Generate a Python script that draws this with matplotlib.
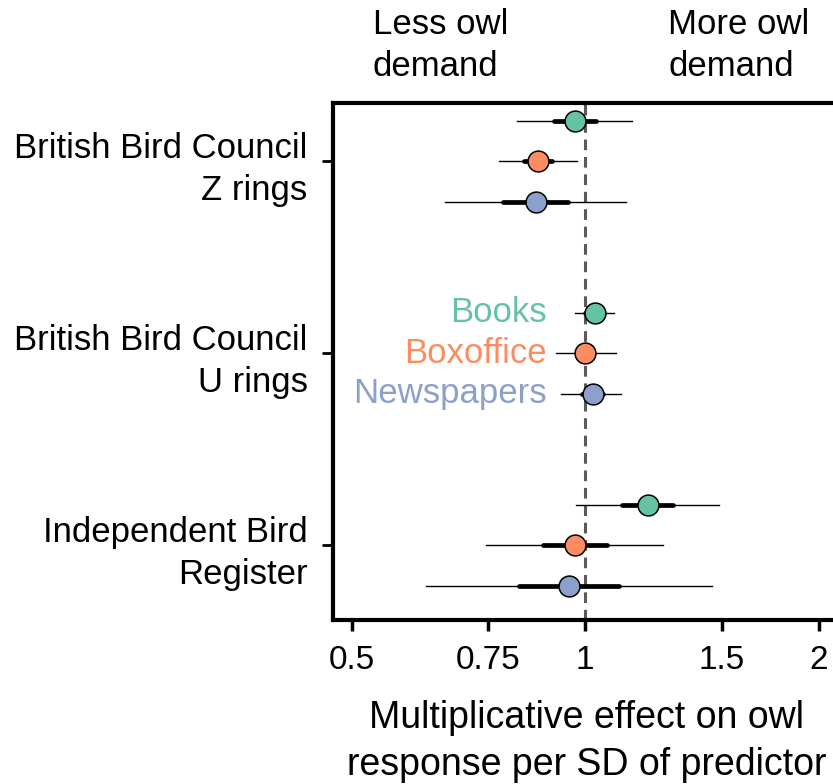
import numpy as np
import matplotlib
matplotlib.use("Agg")
import matplotlib.pyplot as plt

plt.rcParams['font.family'] = ['Liberation Sans', 'DejaVu Sans']

# Predictor groups (top to bottom) and media sources within each group
groups = ["British Bird Council\nZ rings", "British Bird Council\nU rings",
          "Independent Bird\nRegister"]
sources = ["Books", "Boxoffice", "Newspapers"]
colors = ["#66c2a5", "#fc8d62", "#8da0cb"]

# Point estimates, rows = groups, cols = sources
est = np.array([[0.970, 0.870, 0.864],
                [1.029, 1.000, 1.022],
                [1.206, 0.970, 0.954]])
# Inner (thick) interval
in_lo = np.array([[0.912, 0.834, 0.783],
                  [1.000, 0.975, 0.990],
                  [1.116, 0.883, 0.822]])
in_hi = np.array([[1.032, 0.905, 0.949],
                  [1.058, 1.025, 1.055],
                  [1.299, 1.066, 1.106]])
# Outer (thin) interval
out_lo = np.array([[0.816, 0.775, 0.659],
                   [0.970, 0.916, 0.931],
                   [0.973, 0.745, 0.623]])
out_hi = np.array([[1.150, 0.975, 1.127],
                   [1.089, 1.095, 1.112],
                   [1.487, 1.261, 1.458]])

xticks = [0.5, 0.75, 1, 1.5, 2]
xticklabels = ["0.5", "0.75", "1", "1.5", "2"]

fig = plt.figure(figsize=(8.33, 7.84), dpi=100)
ax = fig.add_axes([0.3994, 0.2092, 0.609, 0.660])

group_y = np.array([3, 2, 1])
offsets = np.array([0.211, 0, -0.211])

ax.axvline(1, color="#5a5a5a", lw=2.2, ls=(0, (3.5, 2.2)), zorder=1)

for g in range(len(groups)):
    for s in range(len(sources)):
        y = group_y[g] + offsets[s]
        ax.plot([out_lo[g, s], out_hi[g, s]], [y, y], color="black", lw=1.0, zorder=2)
        ax.plot([in_lo[g, s], in_hi[g, s]], [y, y], color="black", lw=3.4,
                solid_capstyle="round", zorder=3)
        ax.plot(est[g, s], y, "o", ms=15, mfc=colors[s], mec="black", mew=1.1, zorder=4)

# colour key next to the middle group
for s in range(len(sources)):
    ax.text(0.893, group_y[1] + offsets[s], sources[s], color=colors[s],
            fontsize=25, ha="right", va="center")

ax.set_xscale("log")
ax.set_xlim(0.4726, 2.13)
ax.set_ylim(0.61, 3.307)
ax.set_xticks(xticks)
ax.set_xticklabels(xticklabels)
ax.xaxis.set_minor_locator(matplotlib.ticker.NullLocator())
ax.set_yticks(group_y)
ax.set_yticklabels(groups, linespacing=1.35)

ax.tick_params(axis="x", length=8, width=2.5, labelsize=24, pad=10)
ax.tick_params(axis="y", length=8, width=2, labelsize=25, pad=10)
for side in ["left", "right", "top", "bottom"]:
    ax.spines[side].set_linewidth(3)

ax.set_xlabel("Multiplicative effect on owl\nresponse per SD of predictor",
              fontsize=27, labelpad=17, linespacing=1.4)

fig.text(373 / 833, 1 - 8 / 784, "Less owl\ndemand", fontsize=25, ha="left",
         va="top", linespacing=1.33)
fig.text(668 / 833, 1 - 8 / 784, "More owl\ndemand", fontsize=25, ha="left",
         va="top", linespacing=1.33)

fig.savefig("out.png", dpi=100)
